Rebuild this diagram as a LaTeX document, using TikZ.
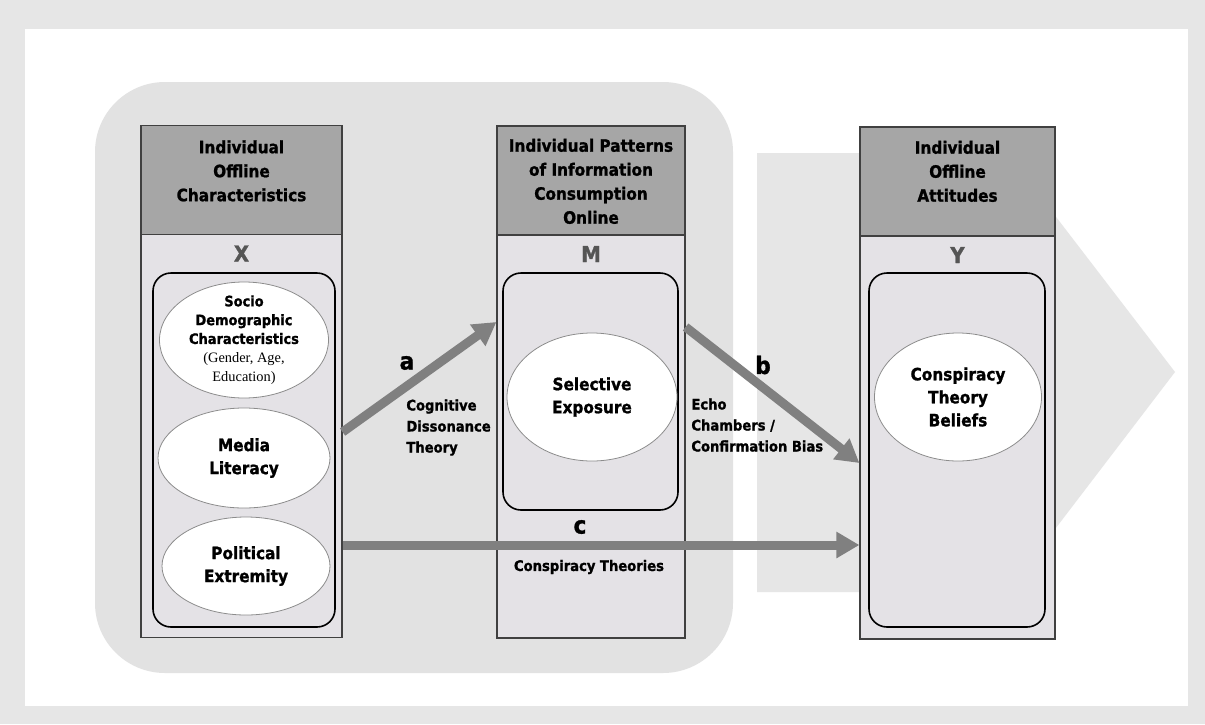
\documentclass[tikz,border=0pt]{standalone}
\usepackage{fontspec}
\setmainfont{Liberation Serif}
\newfontfamily\headfont{DejaVu Sans Condensed}[BoldFeatures={FakeBold=1.2}]
\usetikzlibrary{positioning,shapes.geometric,arrows.meta}

\definecolor{framegray}{HTML}{E6E6E6}
\definecolor{zonegray}{HTML}{E2E2E2}
\definecolor{shadegray}{HTML}{E6E6E6}
\definecolor{boxfill}{HTML}{E4E2E6}
\definecolor{headgray}{HTML}{A6A6A6}
\definecolor{pathgray}{HTML}{808080}
\definecolor{lettergray}{HTML}{555555}

\newcommand{\plainline}{\rmfamily\mdseries\fontsize{7.2}{9.4}\selectfont}

\begin{document}
\begin{tikzpicture}[x=0.5pt,y=-0.5pt,
  panel/.style={draw=black!75, line width=0.6pt, fill=boxfill, minimum height=256pt, inner sep=0pt},
  header/.style={draw=black!75, line width=0.6pt, fill=headgray, minimum height=54.5pt, inner sep=0pt},
  headtext/.style={font=\headfont\bfseries\fontsize{8.5}{12}\selectfont, align=center, inner sep=0pt},
  letter/.style={font=\headfont\bfseries\fontsize{11}{13}\selectfont, text=lettergray, inner sep=0pt},
  group/.style={draw=black, line width=0.8pt, rounded corners=9pt, inner sep=0pt},
  bubble/.style={ellipse, draw=black!45, line width=0.4pt, fill=white, inner sep=0pt, align=center,
    font=\headfont\bfseries\fontsize{8.5}{11.5}\selectfont},
  smallbubble/.style={bubble, inner ysep=-4pt, font=\headfont\bfseries\fontsize{7.2}{9.4}\selectfont},
  pathline/.style={draw=pathgray, line width=4.5pt, -{Triangle[length=11.5pt,width=12.5pt]}},
  pathletter/.style={font=\headfont\bfseries\fontsize{12}{14}\selectfont, inner sep=0pt},
  pathnote/.style={font=\headfont\bfseries\fontsize{7.3}{10.5}\selectfont, align=left, inner sep=0pt}
]
  % Sfondo
  \useasboundingbox (0,0) rectangle (1205,724);
  \fill[framegray] (0,0) rectangle (1205,724);
  \fill[white] (25,29) rectangle (1188,706);
  \fill[shadegray] (757,153) -- (1007,153) -- (1175,372) -- (1007,592) -- (757,592) -- cycle;
  \fill[zonegray, rounded corners=35pt] (95,82) rectangle (733,673);

  % Pannelli
  \node[panel, minimum width=100.5pt] (boxX) at (241.5,381.5) {};
  \node[panel, minimum width=94pt] (boxM) at (591,382) {};
  \node[panel, minimum width=97.5pt] (boxY) at (957.5,383) {};

  \node[header, minimum width=100.5pt, anchor=north] (hdrX) at (boxX.north) {};
  \node[header, minimum width=94pt, anchor=north] (hdrM) at (boxM.north) {};
  \node[header, minimum width=97.5pt, anchor=north] (hdrY) at (boxY.north) {};

  \node[headtext, below=7.5pt of hdrX.north] (hdrXtext) {Individual\\Offline\\Characteristics};
  \node[headtext, below=6.5pt of hdrM.north] (hdrMtext) {Individual Patterns\\of Information\\Consumption\\Online};
  \node[headtext, below=7pt of hdrY.north] (hdrYtext) {Individual\\Offline\\Attitudes};

  \node[letter, below=5pt of hdrX] (letX) {X};
  \node[letter, below=5pt of hdrM] (letM) {M};
  \node[letter, below=5pt of hdrY] (letY) {Y};

  % Gruppi
  \node[group, minimum width=91pt, minimum height=177pt] (grpX) at (244,450) {};
  \node[group, minimum width=87.5pt, minimum height=118.5pt] (grpM) at (590.5,391.5) {};
  \node[group, minimum width=88pt, minimum height=177pt] (grpY) at (957,450) {};

  % Variabili
  \node[smallbubble, minimum width=84.5pt, minimum height=58pt] (socio) at (244,340)
    {Socio\\Demographic\\Characteristics\\\plainline (Gender, Age,\\\plainline Education)};
  \node[bubble, minimum width=86pt, minimum height=50pt] (media) at (244,458) {Media\\Literacy};
  \node[bubble, minimum width=84pt, minimum height=49pt] (polit) at (246,566) {Political\\Extremity};
  \node[bubble, minimum width=85pt, minimum height=64pt] (selexp) at (592,397) {Selective\\Exposure};
  \node[bubble, minimum width=83.5pt, minimum height=64pt] (ctb) at (958,397) {Conspiracy\\Theory\\Beliefs};

  % Percorsi
  \draw[pathline] (boxX.east |- 0,432) -- (boxM.west |- 0,322);
  \draw[pathline] (boxM.east |- 0,327) -- (boxY.west |- 0,463);
  \draw[pathline] (boxX.east |- 0,545) -- (boxY.west |- 0,545);

  \node[pathletter] (labA) at (407,363) {a};
  \node[pathnote, anchor=north west] (noteA) at (406,399) {Cognitive\\Dissonance\\Theory};
  \node[pathletter] (labB) at (763,365) {b};
  \node[pathnote, anchor=north west] (noteB) at (691,398) {Echo\\Chambers /\\Confirmation Bias};
  \node[pathletter] (labC) at (580,527) {c};
  \node[pathnote] (noteC) at (589,567) {Conspiracy Theories};
\end{tikzpicture}
\end{document}
